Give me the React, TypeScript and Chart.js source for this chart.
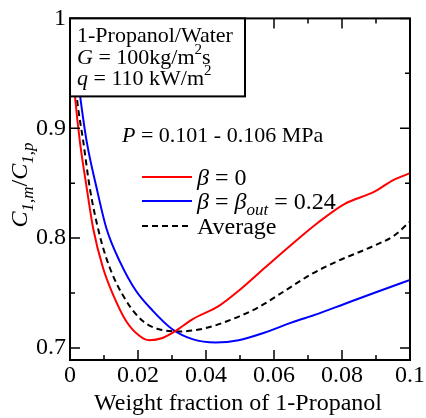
import React, { useEffect, useRef } from "react";
import { Chart, registerables } from "chart.js";

Chart.register(...registerables);

const FONT = '"Liberation Serif", "Times New Roman", serif';

const xTickValues = [0, 0.02, 0.04, 0.06, 0.08, 0.1];
const xTickLabels = ["0", "0.02", "0.04", "0.06", "0.08", "0.1"];
const yTickValues = [0.7, 0.8, 0.9, 1.0];
const yTickLabels = ["0.7", "0.8", "0.9", "1"];

const redX = [0.0003, 0.0015, 0.0029, 0.0049, 0.0068, 0.0097, 0.0126, 0.0165, 0.0204, 0.0233, 0.0272, 0.0311, 0.036, 0.0437, 0.0496, 0.0573, 0.0651, 0.0729, 0.0807, 0.0894, 0.0952, 0.1];
const redY = [0.975, 0.928, 0.888, 0.846, 0.809, 0.773, 0.749, 0.7245, 0.711, 0.707, 0.709, 0.7155, 0.726, 0.738, 0.752, 0.773, 0.794, 0.814, 0.831, 0.842, 0.853, 0.859];

const blueX = [0.0008, 0.0029, 0.0049, 0.0078, 0.0107, 0.0146, 0.0194, 0.0243, 0.0301, 0.036, 0.0428, 0.0496, 0.0573, 0.0651, 0.0729, 0.0807, 0.0894, 0.1];
const blueY = [0.985, 0.931, 0.888, 0.846, 0.809, 0.779, 0.752, 0.734, 0.717, 0.708, 0.705, 0.707, 0.714, 0.723, 0.731, 0.74, 0.75, 0.762];

const avgX = [0.0005, 0.002, 0.0039, 0.0058, 0.0087, 0.0117, 0.0165, 0.0214, 0.0262, 0.0321, 0.0399, 0.0476, 0.0554, 0.0632, 0.0709, 0.0787, 0.0894, 0.0952, 0.1];
const avgY = [0.98, 0.928, 0.888, 0.846, 0.803, 0.773, 0.743, 0.7245, 0.717, 0.715, 0.718, 0.726, 0.737, 0.752, 0.767, 0.779, 0.793, 0.802, 0.815];

type Run = { t: string; i?: boolean; sub?: boolean; sup?: boolean };

function runFont(r: Run, size: number) {
  const s = r.sub || r.sup ? Math.round(size * 0.7) : size;
  return `${r.i ? "italic " : ""}${s}px ${FONT}`;
}

function drawRich(ctx: CanvasRenderingContext2D, x: number, y: number, runs: Run[], size: number) {
  ctx.save();
  ctx.fillStyle = "#000";
  ctx.textBaseline = "middle";
  ctx.textAlign = "left";
  let cx = x;
  for (const r of runs) {
    ctx.font = runFont(r, size);
    let dy = 0;
    if (r.sub) dy = size * 0.3;
    if (r.sup) dy = -size * 0.35;
    ctx.fillText(r.t, cx, y + dy);
    cx += ctx.measureText(r.t).width;
  }
  ctx.restore();
}

function richWidth(ctx: CanvasRenderingContext2D, runs: Run[], size: number) {
  let w = 0;
  ctx.save();
  for (const r of runs) {
    ctx.font = runFont(r, size);
    w += ctx.measureText(r.t).width;
  }
  ctx.restore();
  return w;
}

const overlay = {
  id: "overlay",
  afterDatasetsDraw(chart: any) {
    const ctx: CanvasRenderingContext2D = chart.ctx;
    const { left, right, top, bottom } = chart.chartArea;
    const xs = chart.scales.x;
    const ys = chart.scales.y;

    ctx.save();
    ctx.strokeStyle = "#000";
    ctx.lineWidth = 2;
    ctx.strokeRect(left, top, right - left, bottom - top);

    ctx.lineWidth = 1.5;
    ctx.beginPath();
    for (let k = 0; k <= 10; k++) {
      const v = k * 0.01;
      const px = xs.getPixelForValue(v);
      const len = k % 2 === 0 ? 10 : 5;
      ctx.moveTo(px, bottom);
      ctx.lineTo(px, bottom - len);
      ctx.moveTo(px, top);
      ctx.lineTo(px, top + len);
    }
    for (let k = 0; k <= 6; k++) {
      const v = 0.7 + k * 0.05;
      const py = ys.getPixelForValue(v);
      const len = k % 2 === 0 ? 10 : 5;
      ctx.moveTo(left, py);
      ctx.lineTo(left + len, py);
      ctx.moveTo(right, py);
      ctx.lineTo(right - len, py);
    }
    ctx.stroke();

    const bx = left, by = top, bw = 175, bh = 78;
    ctx.fillStyle = "#fff";
    ctx.fillRect(bx, by, bw, bh);
    ctx.lineWidth = 2;
    ctx.strokeRect(bx, by, bw, bh);
    ctx.restore();

    const fs = 22;
    drawRich(ctx, 77, 36, [{ t: "1-Propanol/Water" }], fs);
    drawRich(ctx, 77, 58, [{ t: "G", i: true }, { t: " = 100kg/m" }, { t: "2", sup: true }, { t: "s" }], fs);
    drawRich(ctx, 77, 79, [{ t: "q", i: true }, { t: " = 110 kW/m" }, { t: "2", sup: true }], fs);

    drawRich(ctx, 122, 136, [{ t: "P", i: true }, { t: " = 0.101 - 0.106 MPa" }], fs);

    const lx0 = 142, lx1 = 192, tx = 197;
    const items = [
      { y: 177, color: "#ff0000", dash: [] as number[], runs: [{ t: "β", i: true }, { t: " = 0" }] as Run[] },
      { y: 201, color: "#0000ff", dash: [] as number[], runs: [{ t: "β", i: true }, { t: " = " }, { t: "β", i: true }, { t: "out", i: true, sub: true }, { t: " = 0.24" }] as Run[] },
      { y: 226, color: "#000000", dash: [6, 4], runs: [{ t: "Average" }] as Run[] },
    ];
    for (const it of items) {
      ctx.save();
      ctx.strokeStyle = it.color;
      ctx.lineWidth = 2;
      ctx.setLineDash(it.dash);
      ctx.beginPath();
      ctx.moveTo(lx0, it.y);
      ctx.lineTo(lx1, it.y);
      ctx.stroke();
      ctx.restore();
      drawRich(ctx, tx, it.y + 2, it.runs, 24);
    }

    const xt: Run[] = [{ t: "Weight fraction of 1-Propanol" }];
    const xw = richWidth(ctx, xt, 24);
    drawRich(ctx, (left + right) / 2 - xw / 2 - 2, 404, xt, 24);

    const yt: Run[] = [
      { t: "C", i: true }, { t: "1,m", i: true, sub: true }, { t: "/" },
      { t: "C", i: true }, { t: "1,p", i: true, sub: true },
    ];
    const yw = richWidth(ctx, yt, 24);
    ctx.save();
    ctx.translate(21, 185);
    ctx.rotate(-Math.PI / 2);
    drawRich(ctx, -yw / 2, 0, yt, 24);
    ctx.restore();
  },
};

function toPts(xs: number[], ys: number[]) {
  return xs.map((x, i) => ({ x, y: ys[i] }));
}

export default function App() {
  const ref = useRef<HTMLCanvasElement>(null);
  useEffect(() => {
    if (!ref.current) return;
    const chart = new Chart(ref.current, {
      type: "line",
      data: {
        datasets: [
          { label: "β = 0", data: toPts(redX, redY), borderColor: "#ff0000", borderWidth: 2, pointRadius: 0, cubicInterpolationMode: "monotone", fill: false },
          { label: "β = βout = 0.24", data: toPts(blueX, blueY), borderColor: "#0000ff", borderWidth: 2, pointRadius: 0, cubicInterpolationMode: "monotone", fill: false },
          { label: "Average", data: toPts(avgX, avgY), borderColor: "#000000", borderWidth: 2, borderDash: [6, 4], pointRadius: 0, cubicInterpolationMode: "monotone", fill: false },
        ],
      },
      options: {
        responsive: false,
        animation: false,
        layout: { padding: { top: 18, right: 13, left: 0, bottom: 0 } },
        plugins: { legend: { display: false }, tooltip: { enabled: false } },
        scales: {
          x: {
            type: "linear",
            min: 0,
            max: 0.1,
            afterBuildTicks: (s: any) => { s.ticks = xTickValues.map((v) => ({ value: v })); },
            afterFit: (s: any) => { s.height = 58; },
            ticks: {
              color: "#000",
              font: { family: FONT, size: 24 },
              padding: 1,
              maxRotation: 0,
              autoSkip: false,
              callback: (_v: any, i: number) => xTickLabels[i],
            },
            grid: { display: false, drawTicks: false },
            border: { display: false },
          },
          y: {
            type: "linear",
            min: 0.689,
            max: 1.0,
            afterBuildTicks: (s: any) => { s.ticks = yTickValues.map((v) => ({ value: v })); },
            afterFit: (s: any) => { s.width = 70; },
            ticks: {
              color: "#000",
              font: { family: FONT, size: 24 },
              padding: 4,
              autoSkip: false,
              callback: (_v: any, i: number) => yTickLabels[i],
            },
            grid: { display: false, drawTicks: false },
            border: { display: false },
          },
        },
      },
      plugins: [overlay],
    } as any);
    return () => chart.destroy();
  }, []);
  return (
    <div style={{ position: "absolute", left: 0, top: 0, width: 426, height: 418, background: "#fff" }}>
      <canvas ref={ref} width={426} height={418} />
    </div>
  );
}
